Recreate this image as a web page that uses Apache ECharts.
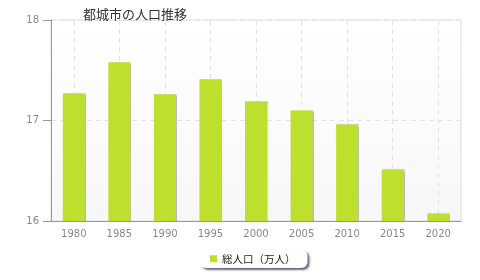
<!DOCTYPE html>
<html><head><meta charset="utf-8">
<script src="https://cdn.jsdelivr.net/npm/echarts@6/dist/echarts.min.js"></script>
<style>html,body{margin:0;padding:0;background:#fff}#c{width:480px;height:280px}</style>
</head><body><div id="c"></div>
<script>
const categories = ['1980','1985','1990','1995','2000','2005','2010','2015','2020'];
const population = [17.27, 17.58, 17.26, 17.41, 17.19, 17.10, 16.96, 16.51, 16.07];
const yTicks = [16, 17, 18];
const seriesName = '総人口（万人）';
const chart = echarts.init(document.getElementById('c'), null, {renderer:'canvas'});
chart.setOption({
  animation:false,
  title:{text:'都城市の人口推移', left:78, top:3, textStyle:{fontSize:13, fontWeight:'normal', color:'#333', fontFamily:'Noto Sans CJK JP'}},
  grid:{left:51, right:19, top:20, bottom:59, show:true, borderColor:'#ddd', borderWidth:1,
    backgroundColor:new echarts.graphic.LinearGradient(0,0,0,1,[{offset:0,color:'#ffffff'},{offset:1,color:'#f7f7f7'}])},
  legend:{bottom:12, left:200, itemWidth:7, itemHeight:7, itemGap:6, icon:'rect', backgroundColor:'#fff', borderRadius:6,
    padding:[4,12,4,10], shadowColor:'rgba(40,40,70,0.7)', shadowOffsetX:2, shadowOffsetY:2, shadowBlur:2,
    textStyle:{fontSize:10.5, color:'#222', fontFamily:'Noto Sans CJK JP'}, data:[seriesName]},
  xAxis:{type:'category', data:categories, boundaryGap:true,
    axisLine:{lineStyle:{color:'#999'}}, axisTick:{alignWithLabel:true, length:5, lineStyle:{color:'#999'}},
    axisLabel:{color:'#888', fontSize:10, margin:8, fontFamily:'DejaVu Sans'},
    splitLine:{show:true, alignWithLabel:true, lineStyle:{color:'#e3e3e3', type:[5,4]}}},
  yAxis:{type:'value', min:16, max:18, interval:1,
    axisLine:{show:true, lineStyle:{color:'#999'}}, axisTick:{show:true, length:8, lineStyle:{color:'#999'}},
    axisLabel:{color:'#888', fontSize:10, margin:12, fontFamily:'DejaVu Sans', formatter:v=>yTicks.includes(v)?String(v):''},
    splitLine:{show:true, lineStyle:{color:'#e3e3e3', type:[5,4]}}},
  series:[{name:seriesName, type:'bar', data:population, barWidth:22,
    itemStyle:{color:'#bde02e', shadowColor:'rgba(0,0,0,0.25)', shadowOffsetX:1, shadowOffsetY:-0.5, shadowBlur:1}}]
});
</script></body></html>
